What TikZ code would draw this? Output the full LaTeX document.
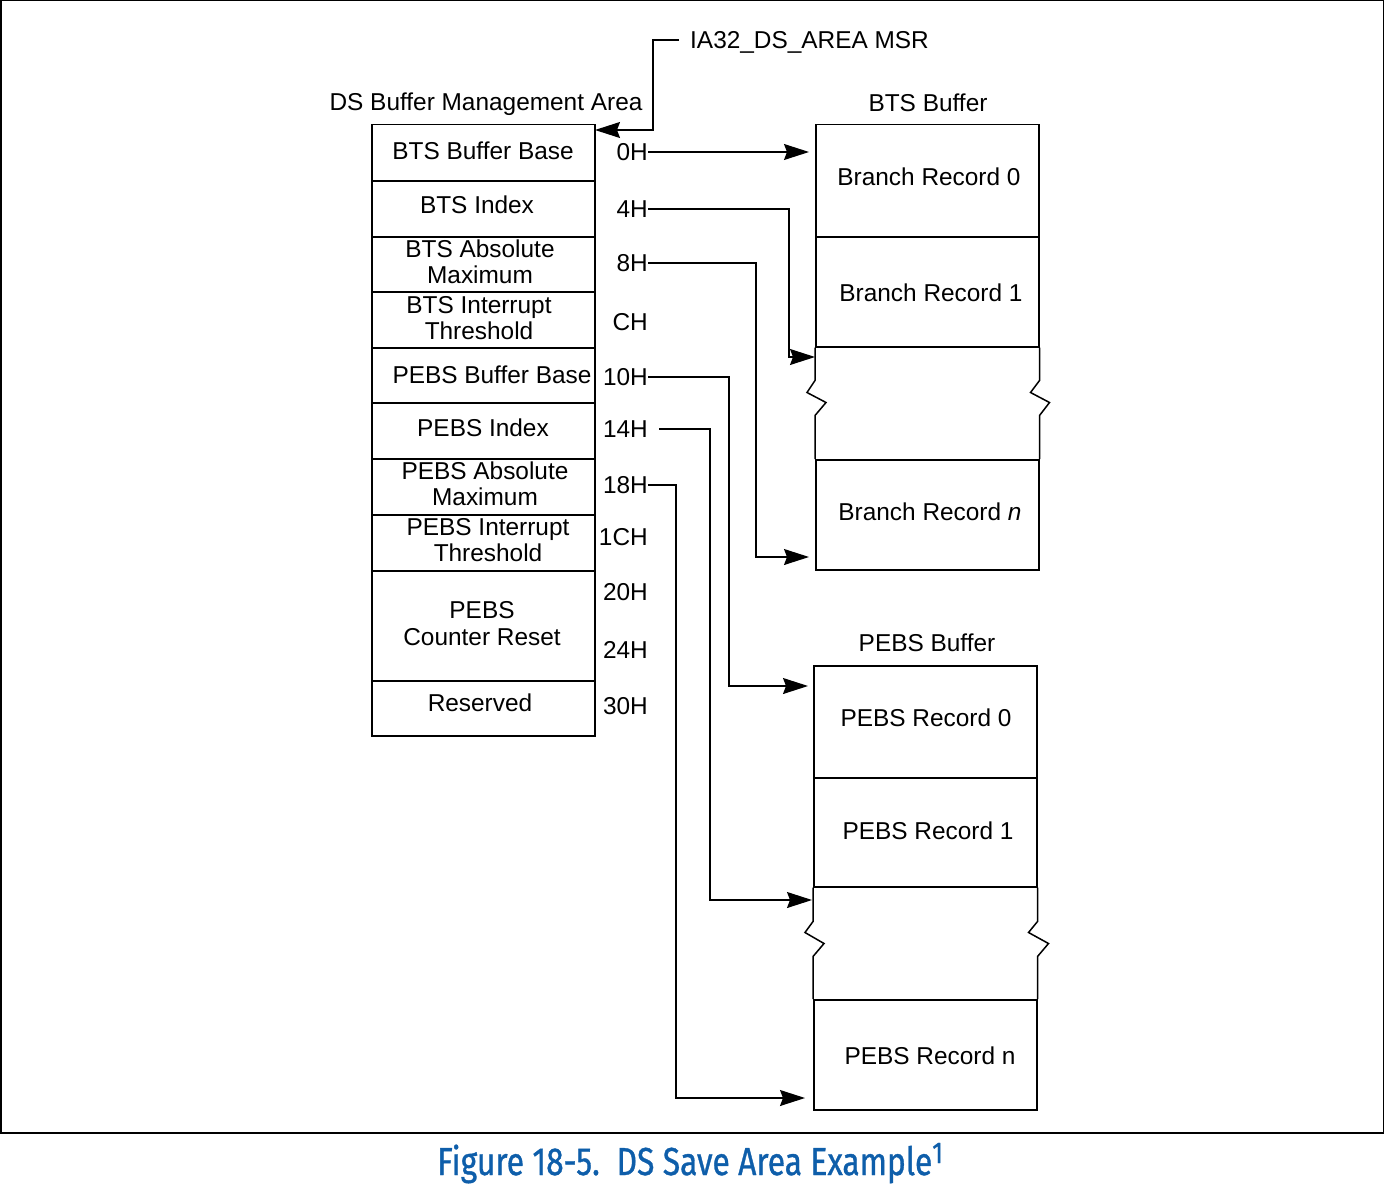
\documentclass[tikz,border=0pt]{standalone}
\usepackage{fontspec}
\setmainfont{Liberation Sans}
\newfontfamily\capfont[FakeBold=1]{Fira Sans}
\usetikzlibrary{arrows.meta}
\definecolor{capblue}{RGB}{14,94,170}
\begin{document}
\begin{tikzpicture}[x=1pt,y=-1pt,
  every node/.style={inner sep=0pt, font=\fontsize{24.4}{26}\selectfont},
  cell/.style={draw, line width=1.5pt, minimum width=223pt, anchor=north west},
  txt/.style={text height=17.5pt, text depth=0pt},
  two/.style={align=center},
  off/.style={anchor=east, text height=17.5pt, text depth=0pt},
  arr/.style={-{Stealth[length=25pt,width=16pt,inset=3pt]}, line width=1.2pt},
  brk/.style={line width=1.5pt}]
\useasboundingbox (0,0) rectangle (1384,1188);
\draw[line width=1.5pt] (0.75,0.75) rectangle (1383.25,1133);

% ---------- DS buffer management area ----------
\node[txt] (dsmt) at (486,102) {DS Buffer Management Area};
\node[cell, minimum height=56pt]  (c1)  at (371,124) {};
\node[cell, minimum height=56pt]  (c2)  at (371,180) {};
\node[cell, minimum height=55pt]  (c3)  at (371,236) {};
\node[cell, minimum height=56pt]  (c4)  at (371,291) {};
\node[cell, minimum height=55pt]  (c5)  at (371,347) {};
\node[cell, minimum height=56pt]  (c6)  at (371,402) {};
\node[cell, minimum height=56pt]  (c7)  at (371,458) {};
\node[cell, minimum height=56pt]  (c8)  at (371,514) {};
\node[cell, minimum height=110pt] (c9)  at (371,570) {};
\node[cell, minimum height=55pt]  (c10) at (371,680) {};

\node[txt] (t1) at (483,151) {BTS Buffer Base};
\node[txt] (t2) at (477,205) {BTS Index};
\node[two] (t3) at (480,262) {BTS Absolute\\Maximum};
\node[two] (t4) at (479,318.5) {BTS Interrupt\\Threshold};
\node[txt] (t5) at (492,375) {PEBS Buffer Base};
\node[txt] (t6) at (483,428) {PEBS Index};
\node[two] (t7) at (485,483.5) {PEBS Absolute\\Maximum};
\node[two] (t8) at (488,540.5) {PEBS Interrupt\\Threshold};
\node[two, font=\fontsize{24.4}{27}\selectfont] (t9) at (482,623.5) {PEBS\\Counter Reset};
\node[txt] (t10) at (480,703) {Reserved};

% ---------- offsets ----------
\node[off] (o0)  at (648,152) {0H};
\node[off] (o4)  at (648,209) {4H};
\node[off] (o8)  at (648,263) {8H};
\node[off] (oC)  at (648,322) {CH};
\node[off] (o10) at (648,377) {10H};
\node[off] (o14) at (648,429) {14H};
\node[off] (o18) at (648,485) {18H};
\node[off] (o1C) at (648,537) {1CH};
\node[off] (o20) at (648,592) {20H};
\node[off] (o24) at (648,650) {24H};
\node[off] (o30) at (648,706) {30H};

% ---------- MSR ----------
\node[anchor=west, txt] (msr) at (690,40) {IA32\_DS\_AREA MSR};
\coordinate (msrtip) at (595,130);
\draw[arr] ([xshift=-11pt]msr.west) -- (653,40) -- (653,130) -- (msrtip);

% ---------- BTS buffer ----------
\node[txt] (btst) at (928,103) {BTS Buffer};
\node[cell, minimum height=112pt] (b0) at (815,124) {};
\node[cell, minimum height=110pt] (b1) at (815,236) {};
\node[cell, minimum height=110pt] (bn) at (815,459) {};
\draw[brk] (b1.south west) -- ++(0,33) -- ++(-8,12) -- ++(19,10) -- ++(-11,13) -- (bn.north west);
\draw[brk] (b1.south east) -- ++(0,33) -- ++(-9,12) -- ++(19,10) -- ++(-10,13) -- (bn.north east);
\node[txt] (br0) at (929,177) {Branch Record 0};
\node[txt] (br1) at (931,293) {Branch Record 1};
\node[txt] (brn) at (930,512) {Branch Record \textit{n}};

% ---------- PEBS buffer ----------
\node[txt] (pebst) at (927,643) {PEBS Buffer};
\node[cell, minimum height=112pt] (p0) at (813,665) {};
\node[cell, minimum height=109pt] (p1) at (813,777) {};
\node[cell, minimum height=110pt] (pn) at (813,999) {};
\draw[brk] (p1.south west) -- ++(0,34) -- ++(-8,11) -- ++(19,11) -- ++(-11,13) -- (pn.north west);
\draw[brk] (p1.south east) -- ++(0,34) -- ++(-9,11) -- ++(20,11) -- ++(-11,13) -- (pn.north east);
\node[txt] (pr0) at (926,718) {PEBS Record 0};
\node[txt] (pr1) at (928,831) {PEBS Record 1};
\node[txt] (prn) at (930,1056) {PEBS Record n};

% ---------- pointers ----------
\coordinate (a0) at (809,152);
\coordinate (a4) at (815,357);
\coordinate (a8) at (809,557);
\coordinate (a10) at (808,686);
\coordinate (a14) at (812,900);
\coordinate (a18) at (805,1098);
\draw[arr] (o0.east) -- (a0);
\draw[arr] (o4.east) -- (789,209) -- (789,357) -- (a4);
\draw[arr] (o8.east) -- (756,263) -- (756,557) -- (a8);
\draw[arr] (o10.east) -- (729,377) -- (729,686) -- (a10);
\draw[arr] ([xshift=11pt]o14.east) -- (710,429) -- (710,900) -- (a14);
\draw[arr] (o18.east) -- (676,485) -- (676,1098) -- (a18);

% ---------- caption ----------
\node[anchor=base west, text=capblue] (cap) at (437,1175)
  {\scalebox{0.815}[1]{\capfont\fontsize{39}{39}\selectfont Figure 18-5.\ \ DS Save Area Example\raisebox{12pt}{\fontsize{30}{30}\selectfont 1}}};
\end{tikzpicture}
\end{document}
